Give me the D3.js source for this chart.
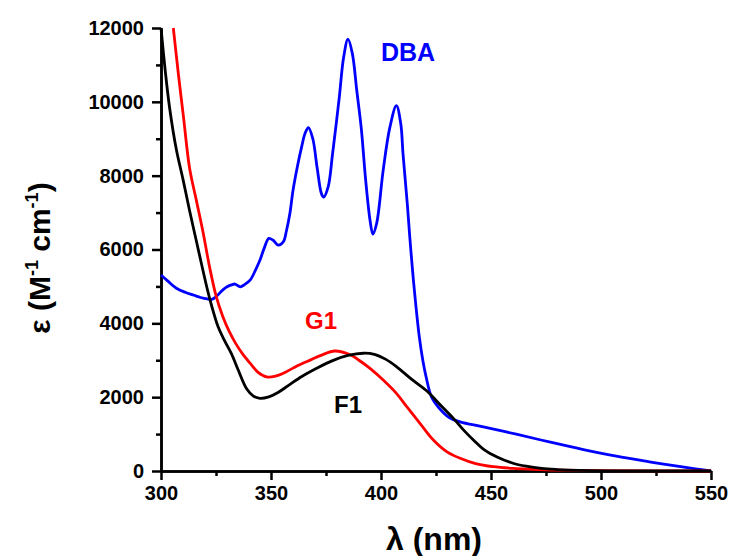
<!DOCTYPE html>
<html>
<head>
<meta charset="UTF-8">
<title>absorption</title>
<style>
  body { margin: 0; background: #ffffff; }
  svg { display: block; font-family: "Liberation Sans", Arial, sans-serif; }
  .axis path, .axis line { stroke: #000; stroke-width: 2.5px; }
  .axis text { font-size: 20px; font-weight: bold; fill: #000; }
</style>
<script src="https://d3js.org/d3.v7.min.js"></script>
</head>
<body>
<div id="chart"></div>
<script>
// wavelength (nm) / epsilon (M^-1 cm^-1)
const f1 = [[300,12000],[302,10800],[304,9800],[307,8700],[310,7900],[313,7050],[316,6250],[319,5450],[322,4700],[326,3900],[329,3520],[332,3180],[335,2750],[339,2220],[342,2030],[345,1970],[349,2010],[353,2120],[358,2320],[364,2560],[371,2790],[378,2990],[385,3130],[392,3190],[397,3160],[402,3030],[407,2830],[414,2480],[421,2160],[426,1850],[433,1420],[438,1080],[442,840],[447,570],[453,370],[460,210],[466,130],[473,70],[480,40],[490,15],[505,4],[550,0]];

const g1 = [[305.6,12000],[308,10700],[310.2,9600],[313,8200],[316,7350],[319,6500],[322,5550],[325,4750],[328,4200],[331,3780],[334,3450],[337,3180],[340.5,2920],[344,2680],[348,2550],[352,2570],[357,2690],[362,2850],[368,3010],[373,3140],[379,3250],[386,3150],[390,3000],[395,2780],[401,2465],[407,2104],[411.7,1742],[417.7,1292],[423.8,840],[430,520],[436,344],[443,200],[451,116],[460,70],[469,46],[480,25],[500,10],[550,0]];

const dba = [[300,5310],[303,5150],[307,4950],[311,4840],[315,4760],[318,4700],[321,4660],[323,4650],[325,4720],[328,4900],[330,4990],[332,5040],[333.6,5065],[336,4990],[338,5050],[340.5,5170],[343,5450],[345,5715],[347,6050],[349,6300],[351,6250],[353.3,6120],[355.6,6210],[357,6500],[358.6,6980],[360,7600],[362,8250],[364,8800],[365.5,9150],[367,9300],[369,9000],[371,8200],[373,7500],[374,7420],[376,7700],[378,8600],[381,10100],[383,11200],[385,11700],[387,11300],[389,10300],[391,9300],[393,7900],[395,6800],[396.3,6420],[398,6700],[401,8150],[404,9300],[407,9900],[409,9400],[410,8600],[412,7200],[413,6400],[415,5000],[417.4,3640],[419,3000],[420.5,2550],[423,2000],[426.5,1700],[431,1450],[436,1330],[446,1200],[462,990],[477,780],[492,580],[507,400],[522,250],[537,110],[550,0]];

const xTicks = [300, 350, 400, 450, 500, 550];
const xMinor = [325, 375, 425, 475, 525];
const yTicks = [0, 2000, 4000, 6000, 8000, 10000, 12000];
const yMinor = [1000, 3000, 5000, 7000, 9000, 11000];

const series = [
  { name: "DBA", data: dba, color: "#0000ff", lx: 381, ly: 61, fs: 25 },
  { name: "G1", data: g1, color: "#ff0000", lx: 305, ly: 329, fs: 24 },
  { name: "F1", data: f1, color: "#000000", lx: 334, ly: 413, fs: 24 }
];

const width = 729, height = 556;
const margin = { top: 28, right: 18, bottom: 85, left: 161 };

const svg = d3.select("#chart").append("svg")
  .attr("width", width)
  .attr("height", height);

const x = d3.scaleLinear().domain([300, 550]).range([margin.left, width - margin.right]);
const y = d3.scaleLinear().domain([0, 12000]).range([height - margin.bottom, margin.top]);

// minor ticks
svg.append("g").attr("class", "axis")
  .attr("transform", `translate(0,${y(0)})`)
  .call(d3.axisBottom(x).tickValues(xMinor).tickSize(5).tickSizeOuter(0).tickFormat(""));
svg.append("g").attr("class", "axis")
  .attr("transform", `translate(${x(300)},0)`)
  .call(d3.axisLeft(y).tickValues(yMinor).tickSize(5).tickSizeOuter(0).tickFormat(""));

// major ticks
svg.append("g").attr("class", "axis")
  .attr("transform", `translate(0,${y(0)})`)
  .call(d3.axisBottom(x).tickValues(xTicks).tickSize(9).tickSizeOuter(0).tickPadding(6).tickFormat(d3.format("d")));
svg.append("g").attr("class", "axis")
  .attr("transform", `translate(${x(300)},0)`)
  .call(d3.axisLeft(y).tickValues(yTicks).tickSize(9).tickSizeOuter(0).tickPadding(8).tickFormat(d3.format("d")));

const line = d3.line()
  .x(d => x(d[0]))
  .y(d => y(d[1]))
  .curve(d3.curveCatmullRom.alpha(0.5));

svg.append("g")
  .selectAll("path")
  .data(series)
  .join("path")
  .attr("d", d => line(d.data))
  .attr("fill", "none")
  .attr("stroke", d => d.color)
  .attr("stroke-width", 2.8)
  .attr("stroke-linejoin", "round");

svg.append("g")
  .selectAll("text")
  .data(series)
  .join("text")
  .attr("x", d => d.lx)
  .attr("y", d => d.ly)
  .attr("fill", d => d.color)
  .attr("font-size", d => d.fs)
  .attr("font-weight", "bold")
  .text(d => d.name);

// axis titles
svg.append("text")
  .attr("x", 434)
  .attr("y", 550)
  .attr("text-anchor", "middle")
  .attr("font-size", 32)
  .attr("font-weight", "bold")
  .text("λ (nm)");

const yt = svg.append("text")
  .attr("transform", "translate(50,258) rotate(-90)")
  .attr("text-anchor", "middle")
  .attr("font-size", 30)
  .attr("font-weight", "bold");
yt.append("tspan").text("ε (M");
yt.append("tspan").attr("font-size", 18).attr("dy", -12).text("-1");
yt.append("tspan").attr("dy", 12).text(" cm");
yt.append("tspan").attr("font-size", 18).attr("dy", -12).text("-1");
yt.append("tspan").attr("dy", 12).text(")");
</script>
</body>
</html>
